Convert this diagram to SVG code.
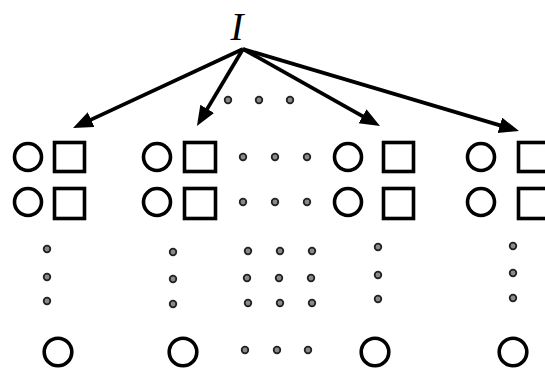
<svg xmlns="http://www.w3.org/2000/svg" width="545" height="372" viewBox="0 0 545 372">
<defs>
<style>
.c{fill:none;stroke:#000;stroke-width:3.6}
.s{fill:none;stroke:#000;stroke-width:3.6}
.d{fill:#8a8a8a;stroke:#222;stroke-width:1.8}
.a{fill:none;stroke:#000;stroke-width:3.8}
.t{font-family:"Liberation Serif",serif;font-style:italic;font-size:39px;fill:#000}
</style>
<marker id="ah" markerUnits="userSpaceOnUse" markerWidth="22" markerHeight="18" refX="9" refY="8" orient="auto">
<path d="M0,0 L20,8 L0,16 z" fill="#000"/>
</marker>
</defs>
<rect width="545" height="372" fill="#fff"/>
<g id="label-I"><text class="t" x="237" y="40" text-anchor="middle">I</text></g>
<g id="connectors">
<line class="a" x1="243" y1="49" x2="83" y2="123.4" marker-end="url(#ah)"/>
<line class="a" x1="243" y1="49" x2="202.6" y2="116.6" marker-end="url(#ah)"/>
<line class="a" x1="243" y1="49" x2="370.4" y2="120.6" marker-end="url(#ah)"/>
<line class="a" x1="243" y1="49" x2="508.5" y2="127.9" marker-end="url(#ah)"/>
</g>
<g id="dots-top">
<circle class="d" cx="228" cy="100" r="3.3"/><circle class="d" cx="259" cy="100" r="3.3"/><circle class="d" cx="290" cy="100" r="3.3"/>
</g>
<g id="col1">
<circle class="c" cx="28" cy="157" r="13.5"/><rect class="s" x="54.5" y="142.5" width="30" height="29"/>
<circle class="c" cx="28" cy="202" r="13.5"/><rect class="s" x="54.5" y="188.5" width="30" height="30"/>
<circle class="d" cx="47" cy="249" r="3.3"/><circle class="d" cx="47" cy="277" r="3.3"/><circle class="d" cx="47" cy="301" r="3.3"/>
<circle class="c" cx="58" cy="352" r="13.8"/>
</g>
<g id="col2">
<circle class="c" cx="157" cy="157" r="13.5"/><rect class="s" x="184.5" y="142.5" width="31" height="29"/>
<circle class="c" cx="157" cy="202" r="13.5"/><rect class="s" x="184.5" y="188.5" width="31" height="30"/>
<circle class="d" cx="173" cy="252" r="3.3"/><circle class="d" cx="173" cy="279" r="3.3"/><circle class="d" cx="173" cy="304" r="3.3"/>
<circle class="c" cx="183" cy="352" r="13.8"/>
</g>
<g id="dots-middle">
<circle class="d" cx="243" cy="157" r="3.3"/><circle class="d" cx="275" cy="157" r="3.3"/><circle class="d" cx="307" cy="157" r="3.3"/>
<circle class="d" cx="243" cy="202" r="3.3"/><circle class="d" cx="275" cy="202" r="3.3"/><circle class="d" cx="307" cy="202" r="3.3"/>
<circle class="d" cx="248" cy="251" r="3.3"/><circle class="d" cx="280" cy="251" r="3.3"/><circle class="d" cx="312" cy="251" r="3.3"/>
<circle class="d" cx="247" cy="278" r="3.3"/><circle class="d" cx="279" cy="278" r="3.3"/><circle class="d" cx="311" cy="278" r="3.3"/>
<circle class="d" cx="248" cy="303" r="3.3"/><circle class="d" cx="280" cy="303" r="3.3"/><circle class="d" cx="312" cy="303" r="3.3"/>
<circle class="d" cx="245" cy="350" r="3.3"/><circle class="d" cx="277" cy="350" r="3.3"/><circle class="d" cx="308" cy="350" r="3.3"/>
</g>
<g id="col3">
<circle class="c" cx="348" cy="157" r="13.5"/><rect class="s" x="383.5" y="142.5" width="30" height="29"/>
<circle class="c" cx="348" cy="202" r="13.5"/><rect class="s" x="383.5" y="188.5" width="30" height="30"/>
<circle class="d" cx="378" cy="247" r="3.3"/><circle class="d" cx="378" cy="275" r="3.3"/><circle class="d" cx="378" cy="299" r="3.3"/>
<circle class="c" cx="375" cy="352" r="13.8"/>
</g>
<g id="col4">
<circle class="c" cx="481" cy="157" r="13.5"/><rect class="s" x="518.5" y="142.5" width="30" height="29"/>
<circle class="c" cx="481" cy="202" r="13.5"/><rect class="s" x="518.5" y="188.5" width="30" height="30"/>
<circle class="d" cx="513" cy="246" r="3.3"/><circle class="d" cx="513" cy="273" r="3.3"/><circle class="d" cx="513" cy="298" r="3.3"/>
<circle class="c" cx="513" cy="352" r="13.8"/>
</g>
</svg>
